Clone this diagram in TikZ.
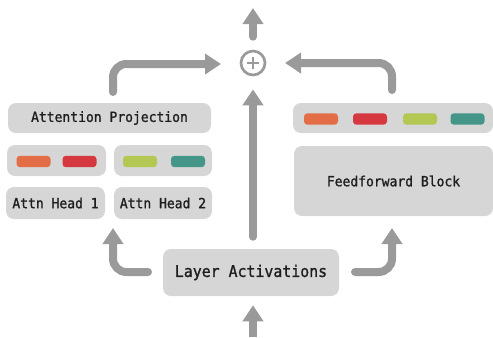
\documentclass[tikz,border=0pt]{standalone}
\usepackage{fontspec}
\newfontfamily\monofnt[FakeStretch=0.93, FakeBold=1.2]{DejaVu Sans Mono}
\usetikzlibrary{arrows.meta}
\definecolor{boxgray}{HTML}{D6D6D6}
\definecolor{arrgray}{HTML}{9A9A9A}
\definecolor{txt}{HTML}{1E1E1E}
\definecolor{cor}{HTML}{E36D46}
\definecolor{cred}{HTML}{D5383F}
\definecolor{cgrn}{HTML}{B2C852}
\definecolor{ctea}{HTML}{449689}
\tikzset{
  gbox/.style={fill=boxgray, rounded corners=6pt, inner sep=0pt, text=txt, font=\monofnt\fontsize{10.5}{12}\selectfont},
  pill/.style={rounded corners=2.5pt, minimum width=25.5pt, minimum height=8.5pt, inner sep=0pt},
  arr/.style={draw=arrgray, line width=6pt, line cap=round, rounded corners=10pt, -{Triangle[width=15pt,length=12pt]}},
}
\begin{document}
\begin{tikzpicture}[x=0.75pt,y=-0.75pt]
\useasboundingbox (0,0) rectangle (493,337);
% boxes
\node[gbox, minimum width=152.25pt, minimum height=22.5pt] (attproj) at (109.5,118) {Attention Projection};
\node[gbox, minimum width=74.25pt, minimum height=23.25pt] (lcol) at (56.5,160.5) {};
\node[gbox, minimum width=73.5pt, minimum height=23.25pt] (rcol) at (163,160.5) {};
\node[gbox, minimum width=74.25pt, minimum height=24pt] (head1) at (55.5,203) {Attn Head 1};
\node[gbox, minimum width=73.5pt, minimum height=24pt] (head2) at (163,203) {Attn Head 2};
\node[gbox, minimum width=150pt, minimum height=22.5pt] (ffcol) at (393,118) {};
\node[gbox, minimum width=149.25pt, minimum height=52.5pt] (ff) at (393.5,181) {Feedforward Block};
\node[gbox, minimum width=132pt, minimum height=35.25pt, font=\monofnt\fontsize{12}{14}\selectfont] (layer) at (251,272.5) {Layer Activations};
% pills
\node[pill, fill=cor] (p1) at (33.5,161.5) {};
\node[pill, fill=cred] (p2) at (79.5,161.5) {};
\node[pill, fill=cgrn] (p3) at (140,161.5) {};
\node[pill, fill=ctea] (p4) at (188,161.5) {};
\node[pill, fill=cor] (q1) at (321,119) {};
\node[pill, fill=cred] (q2) at (370,119) {};
\node[pill, fill=cgrn] (q3) at (420,119) {};
\node[pill, fill=ctea] (q4) at (467.5,119) {};
% plus
\node[circle, draw=arrgray, line width=2pt, minimum size=18pt, inner sep=0pt] (plus) at (253,63) {};
\draw[arrgray, line width=2pt] ([xshift=-4.5pt]plus.center) -- ([xshift=4.5pt]plus.center);
\draw[arrgray, line width=2pt] ([yshift=-4.5pt]plus.center) -- ([yshift=4.5pt]plus.center);
% coordinates
\coordinate (top) at (253,8);
\coordinate (bot) at (253,337);
\coordinate (lstart) at (148,272);
\coordinate (ltip) at (113,228);
\coordinate (rstart) at (355,272);
\coordinate (rtip) at (392,228);
\coordinate (tlstart) at (113,92);
\coordinate (tltip) at (221,64);
\coordinate (trstart) at (392,90);
\coordinate (trtip) at (285,63);
% connectors
\draw[arr, shorten <=9.75pt] (plus.north) -- (top);
\draw[arr, shorten <=9pt, shorten >=9.75pt] (plus |- layer.north) -- (plus.south);
\draw[arr, line cap=butt, shorten >=6.75pt] (bot) -- (plus |- layer.south);
\draw[arr] (lstart) -| (ltip);
\draw[arr] (rstart) -| (rtip);
\draw[arr] (tlstart) |- (tltip);
\draw[arr] (trstart) |- (trtip);
\end{tikzpicture}
\end{document}
